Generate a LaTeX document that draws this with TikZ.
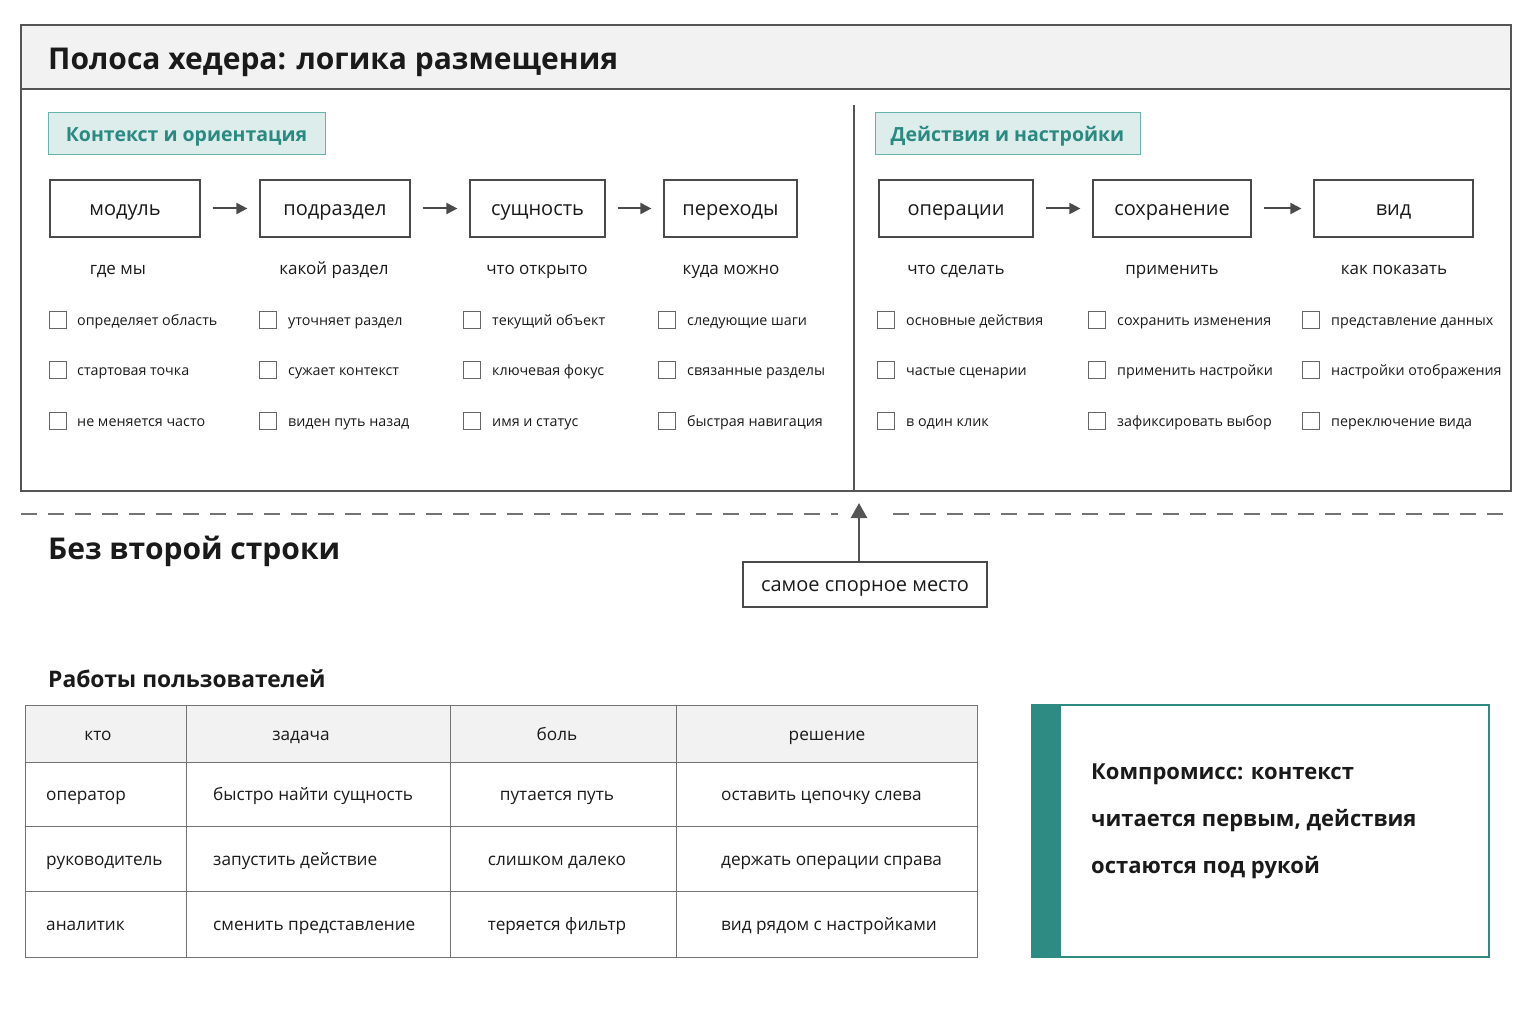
\documentclass[tikz,border=0pt]{standalone}
\usepackage{fontspec}
\setmainfont{Open Sans}
\usetikzlibrary{arrows.meta}
\definecolor{tealdark}{HTML}{2E8B84}
\definecolor{tealtxt}{HTML}{2A8A82}
\definecolor{tealfill}{HTML}{DDEDEB}
\definecolor{tealline}{HTML}{66B3AB}
\definecolor{headfill}{HTML}{F1F2F1}
\definecolor{linegrey}{HTML}{555555}
\definecolor{boxgrey}{HTML}{4A4A4A}
\definecolor{txt}{HTML}{1A1A1A}
\begin{document}
\begin{tikzpicture}[x=1pt,y=-1pt,
  every node/.style={text=txt, inner sep=0pt},
  f30/.style={font=\fontsize{30}{36}\selectfont\bfseries, text height=27pt, text depth=4.8pt},
  frame/.style={draw=linegrey, line width=1.2pt},
  tagbox/.style={draw=tealline, fill=tealfill, line width=1pt, text=tealtxt, font=\fontsize{19.5}{24}\selectfont\bfseries, text height=17.55pt, text depth=3.1pt},
  flowbox/.style={draw=boxgrey, line width=1.2pt, minimum height=57pt, font=\fontsize{20}{24}\selectfont, text height=18pt, text depth=3.2pt},
  flowarr/.style={draw=boxgrey, line width=2pt, -{Triangle[length=11pt,width=11pt]}},
  sublbl/.style={font=\fontsize{17}{20}\selectfont, text height=15.3pt, text depth=2.7pt},
  chk/.style={draw=black!60, line width=0.9pt, minimum size=17pt},
  chktxt/.style={anchor=west, font=\fontsize{14.3}{18}\selectfont, text height=12.9pt, text depth=2.3pt},
  cell/.style={font=\fontsize{17.2}{21}\selectfont, text height=15.5pt, text depth=2.75pt},
  gridl/.style={draw=black!55, line width=1pt}
]
\useasboundingbox (0,0) rectangle (1536,1024);
% outer frame
\fill[headfill] (21,25) rectangle (1511,89);
\draw[frame] (21,25) rectangle (1511,491);
\draw[frame] (21,89) -- (1511,89);
\node[anchor=west, f30] (title) at (48,58) {Полоса хедера: логика размещения};
\draw[draw=linegrey, line width=1.2pt] (854,105) -- (854,491);

% tags
\node[tagbox, minimum width=277pt, minimum height=42pt] (tagL) at (186.5,134) {Контекст и ориентация};
\node[tagbox, minimum width=265pt, minimum height=42pt] (tagR) at (1007.5,134) {Действия и настройки};

% flow boxes
\node[flowbox, minimum width=150pt] (b1) at (125,208.5) {модуль};
\node[flowbox, minimum width=150pt] (b2) at (335,208.5) {подраздел};
\node[flowbox, minimum width=135pt] (b3) at (537.5,208.5) {сущность};
\node[flowbox, minimum width=133pt] (b4) at (730.5,208.5) {переходы};
\node[flowbox, minimum width=154pt] (b5) at (956,208.5) {операции};
\node[flowbox, minimum width=158pt] (b6) at (1172,208.5) {сохранение};
\node[flowbox, minimum width=159pt] (b7) at (1393.5,208.5) {вид};
\foreach \a/\b in {b1/b2,b2/b3,b3/b4,b5/b6,b6/b7}
  \draw[flowarr] ([xshift=12pt]\a.east) -- ([xshift=-12pt]\b.west);

% sub labels
\node[sublbl] (s1) at (118,268) {где мы};
\node[sublbl] (s2) at (334,268) {какой раздел};
\node[sublbl] (s3) at (537,268) {что открыто};
\node[sublbl] (s4) at (731,268) {куда можно};
\node[sublbl] (s5) at (956,268) {что сделать};
\node[sublbl] (s6) at (1172,268) {применить};
\node[sublbl] (s7) at (1394,268) {как показать};

% checkboxes
\foreach \cx/\tx/\r/\t [count=\i] in {
  57.5/77/320/определяет область, 57.5/77/370/стартовая точка, 57.5/77/421/не меняется часто,
  267.5/288/320/уточняет раздел, 267.5/288/370/сужает контекст, 267.5/288/421/виден путь назад,
  471.5/492/320/текущий объект, 471.5/492/370/ключевая фокус, 471.5/492/421/имя и статус,
  666.5/687/320/следующие шаги, 666.5/687/370/связанные разделы, 666.5/687/421/быстрая навигация,
  885.5/906/320/основные действия, 885.5/906/370/частые сценарии, 885.5/906/421/в один клик,
  1096.5/1117/320/сохранить изменения, 1096.5/1117/370/применить настройки, 1096.5/1117/421/зафиксировать выбор,
  1310.5/1331/320/представление данных, 1310.5/1331/370/настройки отображения, 1310.5/1331/421/переключение вида}
{
  \node[chk] (cb\i) at (\cx,\r) {};
  \node[chktxt] (ct\i) at (\tx,\r) {\t};
}

% dashed separator
\draw[draw=black!55, line width=1.2pt, dash pattern=on 16pt off 11pt] (21,514) -- (838,514);
\draw[draw=black!55, line width=1.2pt, dash pattern=on 16pt off 11pt] (893,514) -- (1511,514);
\node[anchor=west, f30] (sub2) at (48,548) {Без второй строки};

% callout
\node[draw=boxgrey, line width=1.2pt, minimum width=244pt, minimum height=45pt, font=\fontsize{20}{24}\selectfont, text height=18pt, text depth=3.2pt] (call) at (865,584.5) {самое спорное место};
\coordinate (tip) at (859,503);
\draw[draw=linegrey, line width=2.4pt, -{Triangle[length=15pt,width=16pt]}] (call.north -| tip) -- (tip);

% table
\node[anchor=west, font=\fontsize{22.8}{28}\selectfont\bfseries, text height=20.5pt, text depth=3.65pt] (tabt) at (48,679) {Работы пользователей};
\fill[headfill] (25,705) rectangle (977,762);
\draw[gridl] (25,705) rectangle (977,957);
\foreach \yy in {762,826,891} \draw[gridl] (25,\yy) -- (977,\yy);
\foreach \xx in {186,450,676} \draw[gridl] (\xx,705) -- (\xx,957);
\node[cell] (h1) at (98,734) {кто};
\node[cell] (h2) at (301,734) {задача};
\node[cell] (h3) at (557,734) {боль};
\node[cell] (h4) at (827,734) {решение};
\foreach \yy/\a/\b/\c/\d [count=\j] in {794/оператор/быстро найти сущность/путается путь/оставить цепочку слева,
  859/руководитель/запустить действие/слишком далеко/держать операции справа,
  924/аналитик/сменить представление/теряется фильтр/вид рядом с настройками}
{
  \node[cell, anchor=west] (r\j a) at (46,\yy) {\a};
  \node[cell, anchor=west] (r\j b) at (213,\yy) {\b};
  \node[cell] (r\j c) at (557,\yy) {\c};
  \node[cell, anchor=west] (r\j d) at (721,\yy) {\d};
}

% compromise box
\tikzset{comptxt/.style={anchor=west, font=\fontsize{22}{28}\selectfont\bfseries, text height=19.8pt, text depth=3.5pt}}
\fill[tealdark] (1032,705) rectangle (1061,957);
\draw[draw=tealdark, line width=1.4pt] (1032,705) rectangle (1489,957);
\node[comptxt] (comp1) at (1091,771) {Компромисс: контекст};
\node[comptxt] (comp2) at (1091,818) {читается первым, действия};
\node[comptxt] (comp3) at (1091,865) {остаются под рукой};
\end{tikzpicture}
\end{document}
